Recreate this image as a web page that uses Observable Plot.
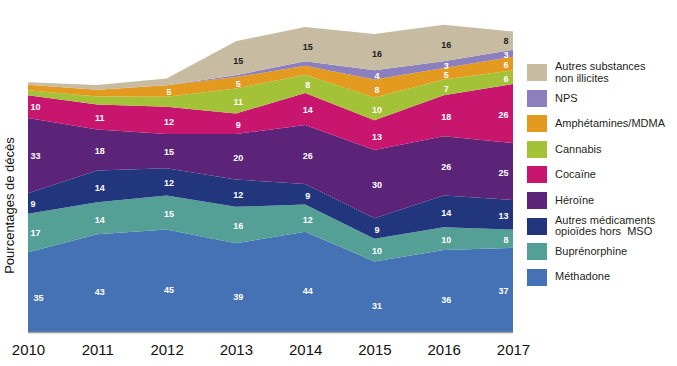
<!DOCTYPE html>
<html><head><meta charset="utf-8">
<script src="https://cdn.jsdelivr.net/npm/d3@7"></script>
<script src="https://cdn.jsdelivr.net/npm/@observablehq/plot@0.6"></script>
<style>
body{margin:0;background:#fff;}
#wrap{position:relative;width:677px;height:366px;font-family:"Liberation Sans",Arial,sans-serif;}
#chart{position:absolute;left:0;top:0;}
#legend{position:absolute;left:527px;top:60px;}
.row{display:flex;align-items:center;height:25.56px;}
.sw{width:20px;height:17px;flex:none;}
.lab{margin-left:8px;font-size:11px;line-height:11.5px;color:#231f20;white-space:nowrap;}
</style></head><body>
<div id="wrap"><div id="chart"></div><div id="legend"></div></div>
<script>
const years = [2010, 2011, 2012, 2013, 2014, 2015, 2016, 2017];
const series = ["Méthadone", "Buprénorphine", "Autres médicaments opioïdes hors  MSO", "Héroïne", "Cocaïne", "Cannabis", "Amphétamines/MDMA", "NPS", "Autres substances non illicites"];
const legendLabels = ["Méthadone", "Buprénorphine", "Autres médicaments<br>opioïdes hors&nbsp; MSO", "Héroïne", "Cocaïne", "Cannabis", "Amphétamines/MDMA", "NPS", "Autres substances<br>non illicites"];
const colors = ["#4472b4", "#54a096", "#22367e", "#5b2479", "#c8166f", "#a3c238", "#e4991f", "#8c7fbd", "#c7bca2"];

const methadone   = [35, 43, 45, 39, 44, 31, 36, 37];
const buprenorphine = [17, 14, 15, 16, 12, 10, 10, 8];
const autresMed   = [9, 14, 12, 12, 9, 9, 14, 13];
const heroine     = [33, 18, 15, 20, 26, 30, 26, 25];
const cocaine     = [10, 11, 12, 9, 14, 13, 18, 26];
const cannabis    = [2.2, 3.5, 4.4, 11, 8, 10, 7, 6];
const amphet      = [2.4, 3, 5, 5, 4, 8, 5, 6];
const nps         = [0, 0, 0, 0.8, 2, 4, 3, 3];
const autresSubst = [1.2, 2, 3, 15, 15, 16, 16, 8];
const values = [methadone, buprenorphine, autresMed, heroine, cocaine, cannabis, amphet, nps, autresSubst];

// values read off the picture without a printed label
const unlabeled = {
  "Cannabis": [2010, 2011, 2012],
  "Amphétamines/MDMA": [2010, 2011, 2014],
  "NPS": [2010, 2011, 2012, 2013, 2014],
  "Autres substances non illicites": [2010, 2011, 2012]
};

const data = [];
series.forEach((s, i) => years.forEach((y, j) => data.push({
  series: s, year: y, value: values[i][j],
  shown: !(unlabeled[s] || []).includes(y)
})));

const AUTRES = "Autres substances non illicites";
const METH = "Méthadone";

function labels(pred, opts) {
  return Plot.text(data, Plot.stackY({
    x: "year", y: "value", z: "series",
    text: d => (d.shown && pred(d)) ? String(d.value) : null,
    fontSize: 9, fontWeight: "bold", fill: "white", ...opts
  }));
}
const mid = d => d.year > 2010 && d.year < 2017;

const chart = Plot.plot({
  width: 540, height: 366,
  marginLeft: 28, marginRight: 27, marginTop: 20, marginBottom: 34,
  style: {fontFamily: "'Liberation Sans', Arial, sans-serif", background: "transparent", color: "#111", overflow: "visible"},
  x: {domain: [2010, 2017], axis: null},
  y: {domain: [0, 137.1], axis: null},
  color: {domain: series, range: colors},
  marks: [
    Plot.areaY(data, {x: "year", y: "value", z: "series", fill: "series", curve: "linear"}),
    Plot.ruleY([0], {stroke: "#9a9a9a", strokeWidth: 1.5}),
    Plot.axisX({ticks: years, tickFormat: "d", tickSize: 0, tickPadding: 12, fontSize: 15, label: null, fill: "#111"}),
    Plot.text(["Pourcentages de décès"], {frameAnchor: "left", textAnchor: "middle", rotate: -90, dx: -19, dy: 29, fontSize: 13, fill: "#111"}),
    labels(d => d.year === 2010 && d.series !== METH, {textAnchor: "start", dx: 2}),
    labels(d => d.year === 2010 && d.series === METH, {textAnchor: "start", dx: 5, dy: 5}),
    labels(d => mid(d) && d.series !== METH && d.series !== AUTRES, {dx: 2, dy: 1}),
    labels(d => mid(d) && d.series === METH, {dx: 2, dy: 9}),
    labels(d => mid(d) && d.series === AUTRES, {dx: 2, dy: 2, fill: "#222"}),
    labels(d => d.year === 2017 && d.series !== AUTRES, {textAnchor: "end", dx: -5, dy: 1}),
    labels(d => d.year === 2017 && d.series === AUTRES, {textAnchor: "end", dx: -5, fill: "#222"})
  ]
});
document.getElementById("chart").appendChild(chart);

const legend = document.getElementById("legend");
for (let i = series.length - 1; i >= 0; i--) {
  const row = document.createElement("div");
  row.className = "row";
  row.innerHTML = `<div class="sw" style="background:${colors[i]}"></div><div class="lab">${legendLabels[i]}</div>`;
  legend.appendChild(row);
}
</script>
</body></html>
